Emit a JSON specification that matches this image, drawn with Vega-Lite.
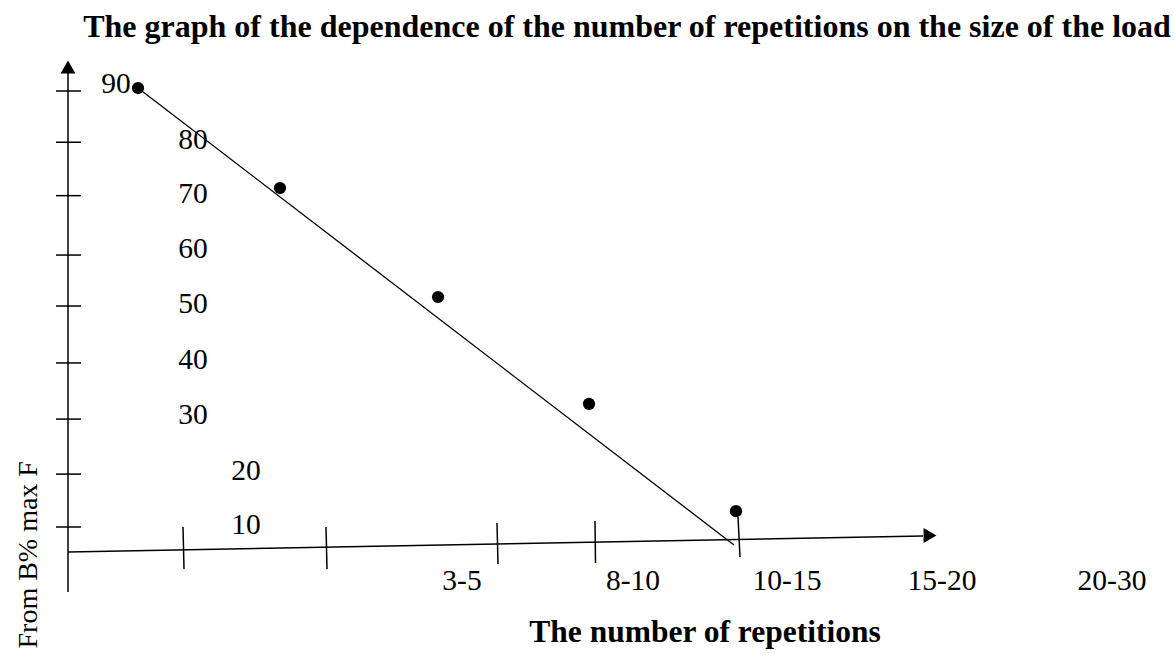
{
  "$schema": "https://vega.github.io/schema/vega-lite/v6.json",
  "width": 1174,
  "height": 664,
  "padding": 0,
  "autosize": {"type": "none"},
  "background": "white",
  "config": {"view": {"stroke": null}},
  "datasets": {
    "points": [
      {"pos": 7.0, "load": 90.55},
      {"pos": 21.2, "load": 72.2},
      {"pos": 37.0, "load": 52.2},
      {"pos": 52.1, "load": 32.6},
      {"pos": 66.8, "load": 12.9}
    ],
    "fit": [
      {"pos": 7.0, "load": 90.55, "pos2": 66.6, "load2": 6.7}
    ],
    "axes": [
      {"part": "y axis", "pos": 0, "load": -1.93, "pos2": 0, "load2": 94.2},
      {"part": "x axis", "pos": 0, "load": 5.41, "pos2": 85.5, "load2": 8.35},
      {"part": "ytick", "pos": -1.2, "load": 90.0, "pos2": 1.3, "load2": 90.0},
      {"part": "ytick", "pos": -1.2, "load": 80.6, "pos2": 1.3, "load2": 80.6},
      {"part": "ytick", "pos": -1.2, "load": 70.8, "pos2": 1.3, "load2": 70.8},
      {"part": "ytick", "pos": -1.2, "load": 59.9, "pos2": 1.3, "load2": 59.9},
      {"part": "ytick", "pos": -1.2, "load": 50.55, "pos2": 1.3, "load2": 50.55},
      {"part": "ytick", "pos": -1.2, "load": 40.1, "pos2": 1.3, "load2": 40.1},
      {"part": "ytick", "pos": -1.2, "load": 29.8, "pos2": 1.3, "load2": 29.8},
      {"part": "ytick", "pos": -1.2, "load": 19.7, "pos2": 1.3, "load2": 19.7},
      {"part": "ytick", "pos": -1.2, "load": 10.0, "pos2": 1.3, "load2": 10.0},
      {"part": "xtick", "pos": 11.5, "load": 10.0, "pos2": 11.6, "load2": 2.29},
      {"part": "xtick", "pos": 25.8, "load": 10.0, "pos2": 25.9, "load2": 2.29},
      {"part": "xtick", "pos": 42.9, "load": 10.73, "pos2": 43.0, "load2": 3.21},
      {"part": "xtick", "pos": 52.7, "load": 11.1, "pos2": 52.75, "load2": 3.39},
      {"part": "xtick", "pos": 67.0, "load": 11.83, "pos2": 67.2, "load2": 4.5}
    ],
    "arrows": [
      {"pos": 0, "load": 94.4, "shape": "triangle-up"},
      {"pos": 86.2, "load": 8.44, "shape": "triangle-right"}
    ],
    "labels": [
      {"label": "90", "pos": 4.8, "load": 89.6},
      {"label": "80", "pos": 12.5, "load": 79.4},
      {"label": "70", "pos": 12.5, "load": 69.4},
      {"label": "60", "pos": 12.5, "load": 59.4},
      {"label": "50", "pos": 12.5, "load": 49.3},
      {"label": "40", "pos": 12.5, "load": 39.0},
      {"label": "30", "pos": 12.5, "load": 28.9},
      {"label": "20", "pos": 17.8, "load": 18.6},
      {"label": "10", "pos": 17.8, "load": 8.7},
      {"label": "3-5", "pos": 39.4, "load": -1.56},
      {"label": "8-10", "pos": 56.5, "load": -1.56},
      {"label": "10-15", "pos": 71.9, "load": -1.56},
      {"label": "15-20", "pos": 87.4, "load": -1.56},
      {"label": "20-30", "pos": 104.4, "load": -1.56}
    ],
    "titles": [
      {"label": "The graph of the dependence of the number of repetitions on the size of the load", "pos": 55.9, "load": 99.9, "size": 32},
      {"label": "The number of repetitions", "pos": 63.7, "load": -11.1, "size": 31.5}
    ],
    "ytitle": [
      {"label": "From B% max F", "pos": -3.1, "load": 4.9}
    ]
  },
  "layer": [
    {
      "data": {"name": "axes"},
      "mark": {"type": "rule", "color": "black", "strokeWidth": 1.5},
      "encoding": {
        "x": {"field": "pos", "type": "quantitative", "scale": {"domain": [-6.8, 110.6], "nice": false, "zero": false}, "axis": null},
        "y": {"field": "load", "type": "quantitative", "scale": {"domain": [-15.14, 106.7], "nice": false, "zero": false}, "axis": null},
        "x2": {"field": "pos2"},
        "y2": {"field": "load2"}
      }
    },
    {
      "data": {"name": "fit"},
      "mark": {"type": "rule", "color": "black", "strokeWidth": 1.3},
      "encoding": {
        "x": {"field": "pos", "type": "quantitative", "scale": {"domain": [-6.8, 110.6], "nice": false, "zero": false}, "axis": null},
        "y": {"field": "load", "type": "quantitative", "scale": {"domain": [-15.14, 106.7], "nice": false, "zero": false}, "axis": null},
        "x2": {"field": "pos2"},
        "y2": {"field": "load2"}
      }
    },
    {
      "data": {"name": "arrows"},
      "mark": {"type": "point", "filled": true, "color": "black", "opacity": 1, "size": 220},
      "encoding": {
        "x": {"field": "pos", "type": "quantitative", "scale": {"domain": [-6.8, 110.6], "nice": false, "zero": false}, "axis": null},
        "y": {"field": "load", "type": "quantitative", "scale": {"domain": [-15.14, 106.7], "nice": false, "zero": false}, "axis": null},
        "shape": {"field": "shape", "type": "nominal", "scale": null}
      }
    },
    {
      "data": {"name": "points"},
      "mark": {"type": "point", "shape": "circle", "filled": true, "color": "black", "opacity": 1, "size": 150},
      "encoding": {
        "x": {"field": "pos", "type": "quantitative", "scale": {"domain": [-6.8, 110.6], "nice": false, "zero": false}, "axis": null},
        "y": {"field": "load", "type": "quantitative", "scale": {"domain": [-15.14, 106.7], "nice": false, "zero": false}, "axis": null}
      }
    },
    {
      "data": {"name": "labels"},
      "mark": {"type": "text", "font": "Liberation Serif", "fontSize": 29.5, "color": "black", "align": "center", "baseline": "alphabetic"},
      "encoding": {
        "x": {"field": "pos", "type": "quantitative", "scale": {"domain": [-6.8, 110.6], "nice": false, "zero": false}, "axis": null},
        "y": {"field": "load", "type": "quantitative", "scale": {"domain": [-15.14, 106.7], "nice": false, "zero": false}, "axis": null},
        "text": {"field": "label"}
      }
    },
    {
      "data": {"name": "titles"},
      "mark": {"type": "text", "font": "Liberation Serif", "fontWeight": "bold", "color": "black", "align": "center", "baseline": "alphabetic"},
      "encoding": {
        "x": {"field": "pos", "type": "quantitative", "scale": {"domain": [-6.8, 110.6], "nice": false, "zero": false}, "axis": null},
        "y": {"field": "load", "type": "quantitative", "scale": {"domain": [-15.14, 106.7], "nice": false, "zero": false}, "axis": null},
        "size": {"field": "size", "type": "quantitative", "scale": null, "legend": null},
        "text": {"field": "label"}
      }
    },
    {
      "data": {"name": "ytitle"},
      "mark": {"type": "text", "font": "Liberation Serif", "fontSize": 28, "color": "black", "align": "center", "baseline": "alphabetic", "angle": 270},
      "encoding": {
        "x": {"field": "pos", "type": "quantitative", "scale": {"domain": [-6.8, 110.6], "nice": false, "zero": false}, "axis": null},
        "y": {"field": "load", "type": "quantitative", "scale": {"domain": [-15.14, 106.7], "nice": false, "zero": false}, "axis": null},
        "text": {"field": "label"}
      }
    }
  ]
}
